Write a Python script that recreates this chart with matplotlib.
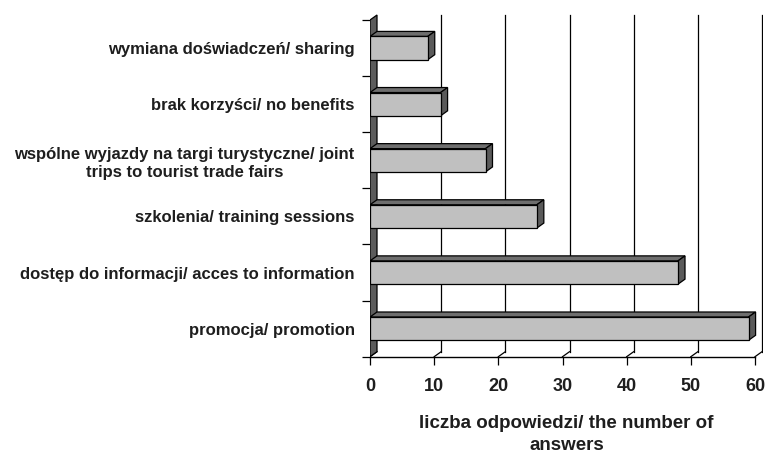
import numpy as np
import matplotlib
matplotlib.use("Agg")
import matplotlib.pyplot as plt

plt.rcParams['font.family'] = ['Liberation Sans', 'DejaVu Sans']

# categories listed bottom -> top
categories = ["promocja/ promotion",
              "dostęp do informacji/ acces to information",
              "szkolenia/ training sessions",
              "wspólne wyjazdy na targi turystyczne/ joint\ntrips to tourist trade fairs",
              "brak korzyści/ no benefits",
              "wymiana doświadczeń/ sharing"]
values = [59, 48, 26, 18, 11, 9]
xticks = [0, 10, 20, 30, 40, 50, 60]
xlabel = "liczba odpowiedzi/ the number of\nanswers"

W, H = 766, 455
fig = plt.figure(figsize=(W / 100, H / 100), dpi=100)

# pixel geometry of the plot (front plane)
x0_px, x60_px = 370, 755
yb_px, yt_px = 356.7, 20          # from top
ppu_x = (x60_px - x0_px) / 60.0
ppu_y = (yb_px - yt_px) / 6.0
ddx_px, ddy_px = 7, 5             # depth offset
xmax = 60 + ddx_px / ppu_x + 0.1
ymax = 6 + ddy_px / ppu_y + 0.03
ax_h_px = ymax * ppu_y

ax = fig.add_axes([x0_px / W, (H - yb_px) / H,
                   xmax * ppu_x / W, ax_h_px / H])
ax.set_xlim(0, xmax)
ax.set_ylim(0, ymax)
dx = ddx_px / ppu_x
dy = ddy_px / ppu_y

for s in ['top', 'right', 'left']:
    ax.spines[s].set_visible(False)
ax.spines['bottom'].set_bounds(0, 60)
ax.spines['bottom'].set_linewidth(1.0)

# back wall gridlines and floor slants
for v in xticks:
    if v > 0:
        ax.plot([v + dx, v + dx], [dy, 6 + dy], color='black', lw=0.9, zorder=1)
    ax.plot([v, v + dx], [0, dy], color='black', lw=0.9, zorder=1)

# left side wall
ax.fill([0, 0, dx, dx], [0, 6, 6 + dy, dy], facecolor='#5c5c5c',
        edgecolor='black', lw=0.9, zorder=2)

# 3D bars
ypos = np.arange(len(values)) + 0.5
h = 0.415
ax.barh(ypos, values, height=h, color='#c0c0c0', edgecolor='black',
        lw=0.9, zorder=4)
for y, v in zip(ypos, values):
    top = y + h / 2
    bot = y - h / 2
    ax.fill([0, v, v + dx, dx], [top, top, top + dy, top + dy],
            facecolor='#6e6e6e', edgecolor='black', lw=0.9, zorder=3)
    ax.fill([v, v + dx, v + dx, v], [bot, bot + dy, top + dy, top],
            facecolor='#5a5a5a', edgecolor='black', lw=0.9, zorder=3)

txt = '#1e1e1e'

# ticks
ax.set_xticks(xticks)
ax.set_xticklabels([str(t) for t in xticks], fontsize=13, color=txt,
                   fontweight='bold')
ax.tick_params(axis='x', direction='out', length=6, width=0.9, pad=9)

ax.set_yticks(np.arange(0, 7), minor=True)
ax.tick_params(axis='y', which='minor', direction='out', length=6, width=0.9)
ax.set_yticks(ypos)
ax.set_yticklabels(categories, fontsize=12, color=txt, fontweight='bold',
                   multialignment='center', linespacing=1.25)
ax.tick_params(axis='y', which='major', length=0, pad=11)
ax.spines['left'].set_visible(False)

ax.set_xlabel(xlabel, fontsize=13.5, color=txt, fontweight='bold',
              linespacing=1.35)
ax.xaxis.set_label_coords(60 / xmax / 2 + 0.01, -(415 - yb_px) / ax_h_px)

fig.savefig("out.png", dpi=100)
